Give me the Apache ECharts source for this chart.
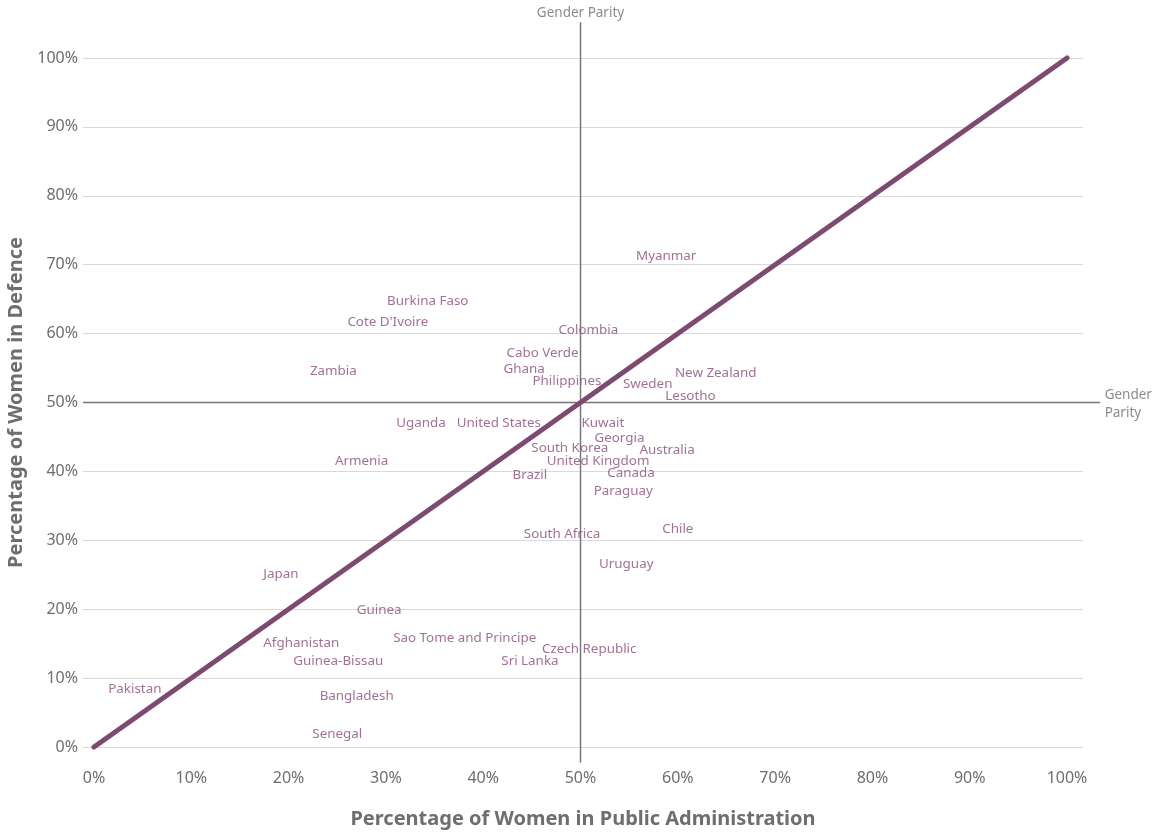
<!DOCTYPE html>
<html>
<head>
<meta charset="utf-8">
<script src="https://cdn.jsdelivr.net/npm/echarts@6/dist/echarts.min.js"></script>
<style>html,body{margin:0;padding:0;background:#fff}#c{width:1156px;height:834px}</style>
</head>
<body>
<div id="c"></div>
<script>
const countries = ["Myanmar","Burkina Faso","Cote D'Ivoire","Colombia","Cabo Verde","Ghana","Zambia","Philippines","Sweden","New Zealand","Lesotho","Uganda","United States","Kuwait","Georgia","South Korea","Australia","United Kingdom","Armenia","Canada","Brazil","Paraguay","Chile","South Africa","Uruguay","Japan","Guinea","Afghanistan","Sao Tome and Principe","Czech Republic","Guinea-Bissau","Sri Lanka","Pakistan","Bangladesh","Senegal"];
const publicAdmin = [58.8,34.3,30.2,50.8,46.1,44.2,24.6,48.6,56.9,63.9,61.3,33.6,41.6,52.3,54.0,48.9,58.9,51.8,27.5,55.2,44.8,54.4,60.0,48.1,54.7,19.2,29.3,21.3,38.1,50.9,25.1,44.8,4.2,27.0,25.0];
const defence = [71.3,64.7,61.7,60.5,57.2,54.9,54.6,53.1,52.7,54.3,50.9,47.0,47.0,47.0,44.8,43.4,43.1,41.5,41.5,39.8,39.5,37.2,31.6,30.9,26.6,25.1,19.9,15.1,15.8,14.2,12.5,12.5,8.4,7.4,1.9];
const xTicks = [0,10,20,30,40,50,60,70,80,90,100];
const equalityLine = [[0,0],[100,100]];
const parity = 50;
const verticalParitySpan = [-2.3, 105.2];
const horizontalParitySpan = [-1.13, 103.4];
const xRange = [-1.13, 101.64];

const purple = '#7d4b72';
const labelPurple = '#894c7b';
const gray = '#6e6e6e';
const font = '"Noto Sans", "Open Sans", sans-serif';

const chart = echarts.init(document.getElementById('c'), null, {renderer:'canvas'});
chart.setOption({
  animation: false,
  grid: {left: 83, right: 73, top: 58, bottom: 87, containLabel: false, outerBoundsMode: 'none'},
  xAxis: {
    type: 'value', min: xRange[0], max: xRange[1],
    axisLine: {show: false}, axisTick: {show: false}, splitLine: {show: false},
    axisLabel: {customValues: xTicks, formatter: '{value}%', color: gray, fontSize: 16, fontFamily: font, margin: 23},
    name: 'Percentage of Women in Public Administration', nameLocation: 'middle', nameGap: 62,
    nameTextStyle: {color: gray, fontSize: 20, fontWeight: 'bold', fontFamily: font}
  },
  yAxis: {
    type: 'value', min: 0, max: 100, interval: 10,
    axisLine: {show: false}, axisTick: {show: false},
    splitLine: {lineStyle: {color: '#d9d9d9', width: 1}},
    axisLabel: {formatter: '{value}%', color: gray, fontSize: 16, fontFamily: font, margin: 5},
    name: 'Percentage of Women in Defence', nameLocation: 'middle', nameGap: 50, nameRotate: 90,
    nameTextStyle: {color: gray, fontSize: 20, fontWeight: 'bold', fontFamily: font}
  },
  series: [
    {
      type: 'custom', z: 1, clip: false, silent: true,
      data: [
        [parity, verticalParitySpan[0], parity, verticalParitySpan[1]],
        [horizontalParitySpan[0], parity, horizontalParitySpan[1], parity]
      ],
      encode: {x: [0, 2], y: [1, 3]},
      renderItem: (params, api) => {
        const a = api.coord([api.value(0), api.value(1)]);
        const b = api.coord([api.value(2), api.value(3)]);
        return {type: 'line', shape: {x1: a[0], y1: a[1], x2: b[0], y2: b[1]}, style: {stroke: '#777', lineWidth: 1.5}};
      }
    },
    {
      type: 'scatter', symbolSize: 1, itemStyle: {color: 'rgba(0,0,0,0)'}, z: 3, clip: false,
      data: [
        {value: [parity, verticalParitySpan[1]], label: {position: 'top', distance: 0, formatter: 'Gender Parity'}},
        {value: [horizontalParitySpan[1], parity], label: {position: 'right', distance: 4, formatter: 'Gender\nParity', offset: [0, 2]}}
      ],
      label: {show: true, color: gray, fontSize: 13.5, lineHeight: 18, fontFamily: font}
    },
    {
      type: 'line', data: equalityLine, symbol: 'none', clip: false,
      lineStyle: {color: purple, width: 5, cap: 'round'}, z: 2
    },
    {
      type: 'scatter', symbolSize: 1, itemStyle: {color: 'rgba(0,0,0,0)'}, z: 3,
      data: countries.map((n, i) => ({name: n, value: [publicAdmin[i], defence[i]]})),
      labelLayout: {hideOverlap: false},
      label: {show: true, position: 'inside', formatter: p => p.name, color: labelPurple, fontSize: 13.4, fontFamily: font}
    }
  ]
});
</script>
</body>
</html>
